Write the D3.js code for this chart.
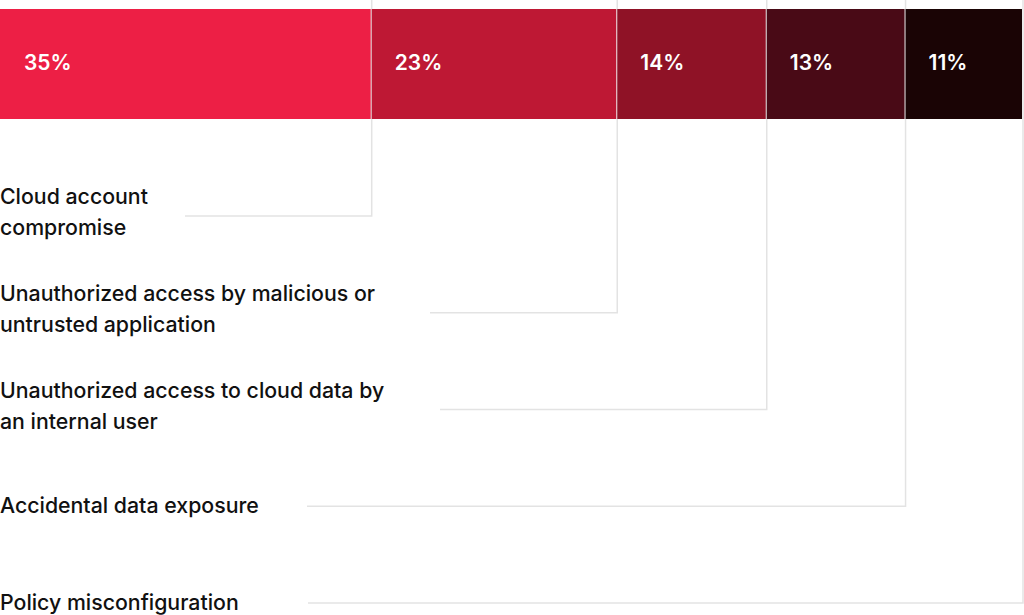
<!DOCTYPE html>
<html lang="en">
<head>
    <meta charset="UTF-8">
    <title>Cloud security incidents</title>
    <script src="https://d3js.org/d3.v7.min.js"></script>
    <style>
        html, body { margin: 0; padding: 0; background: #fff; }
        svg { display: block; }
        .pct {
            font-family: Inter, "Noto Sans", sans-serif;
            font-size: 21px;
            font-weight: 600;
            fill: #fff;
        }
        .cat {
            font-family: Inter, "Noto Sans", sans-serif;
            font-size: 21.3px;
            font-weight: 500;
            fill: #111;
        }
        .leader {
            fill: none;
            stroke: #e3e3e3;
            stroke-width: 1.5;
        }
    </style>
</head>
<body>
    <svg width="1024" height="615"></svg>
    <script>
        // data
        const categories = [
            "Cloud account\ncompromise",
            "Unauthorized access by malicious or\nuntrusted application",
            "Unauthorized access to cloud data by\nan internal user",
            "Accidental data exposure",
            "Policy misconfiguration"
        ];
        const values = [35, 23, 14, 13, 11];
        const colors = ["#ed1f45", "#be1834", "#8f1226", "#490a16", "#1a0405"];
        // where each leader line stops on the left (layout)
        const leaderStart = [185, 430, 440, 307, 308];

        const svg = d3.select("svg");
        const barTop = 9, barBottom = 119;

        const ends = d3.cumsum(values);
        const starts = ends.map((e, i) => e - values[i]);

        const x = d3.scaleLinear()
                    .domain([0, d3.sum(values)])
                    .range([-3, 1022]);
        const y = d3.scalePoint()
                    .domain(categories)
                    .range([216, 603]);

        const segs = values.map((v, i) => ({
            cat: categories[i], value: v, x0: starts[i], x1: ends[i], color: colors[i], i: i
        }));

        // leader lines, behind the bar
        svg.append("g")
           .selectAll("path")
           .data(segs)
           .enter()
           .append("path")
           .attr("class", "leader")
           .attr("d", d => {
               const lx = Math.min(x(d.x1) + 1, 1023);
               return `M${lx},0V${y(d.cat)}H${leaderStart[d.i]}`;
           });

        svg.append("g")
           .selectAll("rect")
           .data(segs)
           .enter()
           .append("rect")
           .attr("x", d => Math.max(x(d.x0) + (d.i ? 1 : 0), 0))
           .attr("y", barTop)
           .attr("width", d => x(d.x1) - Math.max(x(d.x0) + (d.i ? 1 : 0), 0))
           .attr("height", barBottom - barTop)
           .attr("fill", d => d.color);

        svg.append("g")
           .selectAll("text")
           .data(segs)
           .enter()
           .append("text")
           .attr("class", "pct")
           .attr("x", d => Math.max(x(d.x0), 0) + 24)
           .attr("y", 70)
           .text(d => d.value + "%");

        // category labels, one or two lines centred on the leader
        const lab = svg.append("g")
           .selectAll("text")
           .data(segs)
           .enter()
           .append("text")
           .attr("class", "cat")
           .attr("x", 0);

        lab.each(function(d) {
            const lines = d.cat.split("\n");
            const base = lines.length > 1 ? y(d.cat) - 12 : y(d.cat) + 7;
            d3.select(this).selectAll("tspan")
              .data(lines)
              .enter()
              .append("tspan")
              .attr("x", 0)
              .attr("y", (l, k) => base + k * 31)
              .text(l => l);
        });
    </script>
</body>
</html>
